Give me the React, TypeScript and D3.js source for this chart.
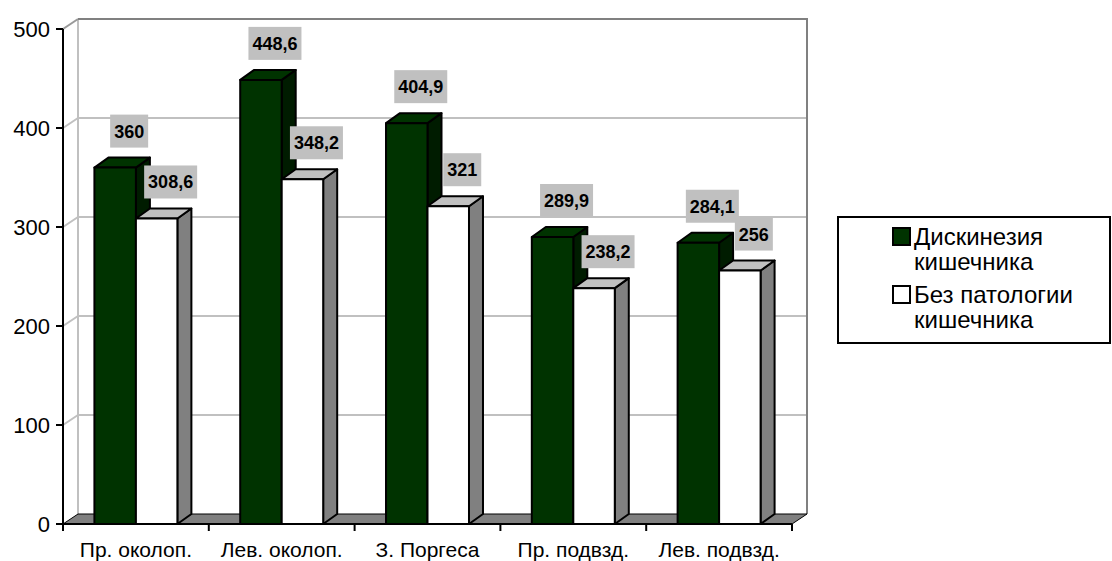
import React from "react";
import * as d3 from "d3";

// Chart data
const categories = ["Пр. околоп.", "Лев. околоп.", "З. Поргеса", "Пр. подвзд.", "Лев. подвзд."];
const seriesNames = ["Дискинезия кишечника", "Без патологии кишечника"];
const legendLines = [["Дискинезия", "кишечника"], ["Без патологии", "кишечника"]];
const dyskinesia = [360, 448.6, 404.9, 289.9, 284.1];
const noPathology = [308.6, 348.2, 321, 238.2, 256];
const valueLabels = [
  ["360", "448,6", "404,9", "289,9", "284,1"],
  ["308,6", "348,2", "321", "238,2", "256"],
];
const yTicks = [0, 100, 200, 300, 400, 500];

const W = 1112;
const H = 561;
const FONT = "'Liberation Sans', Arial, Helvetica, sans-serif";

// plot geometry (front plane) and 3D offsets
const left = 63;
const right = 792;
const bottom = 524;
const top = 29;
const wallDx = 15;
const wallDy = 10;
const barDx = 14;
const barDy = 10;

const faces = [
  { front: "#003300", top: "#003300", side: "#001c00" },
  { front: "#ffffff", top: "#c0c0c0", side: "#808080" },
];

function labelWidth(s: string) {
  let w = 0;
  for (const ch of s) w += ch === "," ? 5 : 10;
  return w + 8;
}

export default function App() {
  const y = d3.scaleLinear().domain([0, 500]).range([bottom, top]);
  const x = d3.scaleBand<string>().domain(categories).range([left, right]).paddingInner(0).paddingOuter(0);
  const xs = d3
    .scaleBand<string>()
    .domain(seriesNames)
    .range([0, x.bandwidth()])
    .paddingInner(0)
    .paddingOuter(0.757);

  const values = [dyskinesia, noPathology];
  const boundaries = [...categories.map((c) => x(c) as number), right];

  const pts = (arr: [number, number][]) => arr.map((p) => p.join(",")).join(" ");

  return (
    <svg
      width={W}
      height={H}
      style={{ position: "absolute", left: 0, top: 0, background: "#fff" }}
      fontFamily={FONT}
    >
      {/* back wall gridlines */}
      {yTicks
        .filter((t) => t > 0 && t < 500)
        .map((t) => (
          <g key={"g" + t}>
            <line x1={left + wallDx} x2={right + wallDx} y1={y(t) - wallDy} y2={y(t) - wallDy} stroke="#c0c0c0" strokeWidth={2} />
            <line x1={left} x2={left + wallDx} y1={y(t)} y2={y(t) - wallDy} stroke="#c0c0c0" strokeWidth={2} />
          </g>
        ))}
      {/* back wall frame */}
      <line x1={left + wallDx} x2={left + wallDx} y1={y(500) - wallDy} y2={bottom - wallDy} stroke="#c0c0c0" strokeWidth={2} />
      <line x1={left} x2={left + wallDx} y1={y(500)} y2={y(500) - wallDy} stroke="#999999" strokeWidth={2} />
      <polyline
        points={pts([
          [left + wallDx, y(500) - wallDy],
          [right + wallDx, y(500) - wallDy],
          [right + wallDx, bottom - wallDy],
        ])}
        fill="none"
        stroke="#808080"
        strokeWidth={2}
      />
      {/* floor */}
      <polygon
        points={pts([
          [left, bottom],
          [right, bottom],
          [right + wallDx, bottom - wallDy],
          [left + wallDx, bottom - wallDy],
        ])}
        fill="#808080"
        stroke="#000"
        strokeWidth={1}
      />

      {/* bars */}
      {categories.map((c, ci) => (
        <g key={c}>
          {seriesNames.map((s, si) => {
            const v = values[si][ci];
            const x0 = (x(c) as number) + (xs(s) as number);
            const x1 = x0 + xs.bandwidth();
            const yt = y(v);
            const f = faces[si];
            return (
              <g key={s} stroke="#000" strokeWidth={2} strokeLinejoin="round">
                <polygon
                  points={pts([
                    [x1, bottom],
                    [x1 + barDx, bottom - barDy],
                    [x1 + barDx, yt - barDy],
                    [x1, yt],
                  ])}
                  fill={f.side}
                />
                <polygon
                  points={pts([
                    [x0, yt],
                    [x1, yt],
                    [x1 + barDx, yt - barDy],
                    [x0 + barDx, yt - barDy],
                  ])}
                  fill={f.top}
                />
                <rect x={x0} y={yt} width={x1 - x0} height={bottom - yt} fill={f.front} />
              </g>
            );
          })}
        </g>
      ))}

      {/* axes */}
      <line x1={left} x2={left} y1={top} y2={bottom + 7} stroke="#000" strokeWidth={2} />
      <line x1={left} x2={right} y1={bottom} y2={bottom} stroke="#000" strokeWidth={2} />
      {yTicks.map((t) => (
        <g key={"t" + t}>
          <line x1={left - 7} x2={left} y1={y(t)} y2={y(t)} stroke="#000" strokeWidth={2} />
          <text x={left - 13} y={y(t) + 8} textAnchor="end" fontSize={22} fill="#000">
            {t}
          </text>
        </g>
      ))}
      {boundaries.map((b, i) => (
        <line key={"b" + i} x1={b} x2={b} y1={bottom} y2={bottom + 7} stroke="#000" strokeWidth={2} />
      ))}
      {categories.map((c) => (
        <text key={"c" + c} x={(x(c) as number) + x.bandwidth() / 2} y={557} textAnchor="middle" fontSize={21} fill="#000">
          {c}
        </text>
      ))}

      {/* value labels */}
      {categories.map((c, ci) =>
        seriesNames.map((s, si) => {
          const v = values[si][ci];
          const label = valueLabels[si][ci];
          const cx = (x(c) as number) + (xs(s) as number) + xs.bandwidth() / 2 + barDx;
          const w = labelWidth(label);
          const yb = y(v) - barDy - 10;
          const h = 33;
          return (
            <g key={"l" + ci + si}>
              <rect x={cx - w / 2} y={yb - h} width={w} height={h} fill="#c0c0c0" />
              <text x={cx} y={yb - h / 2 + 6.5} textAnchor="middle" fontSize={18} fontWeight="bold" fill="#000">
                {label}
              </text>
            </g>
          );
        })
      )}

      {/* legend */}
      <rect x={838} y={217} width={272} height={126} fill="#fff" stroke="#000" strokeWidth={2} />
      {legendLines.map((lines, i) => {
        const y0 = 245 + i * 58;
        return (
          <g key={"lg" + i}>
            <rect x={893} y={y0 - 17} width={17} height={17} fill={faces[i].front} stroke="#000" strokeWidth={2} />
            {lines.map((ln, j) => (
              <text key={j} x={914} y={y0 + j * 25} fontSize={24} fill="#000">
                {ln}
              </text>
            ))}
          </g>
        );
      })}
    </svg>
  );
}
